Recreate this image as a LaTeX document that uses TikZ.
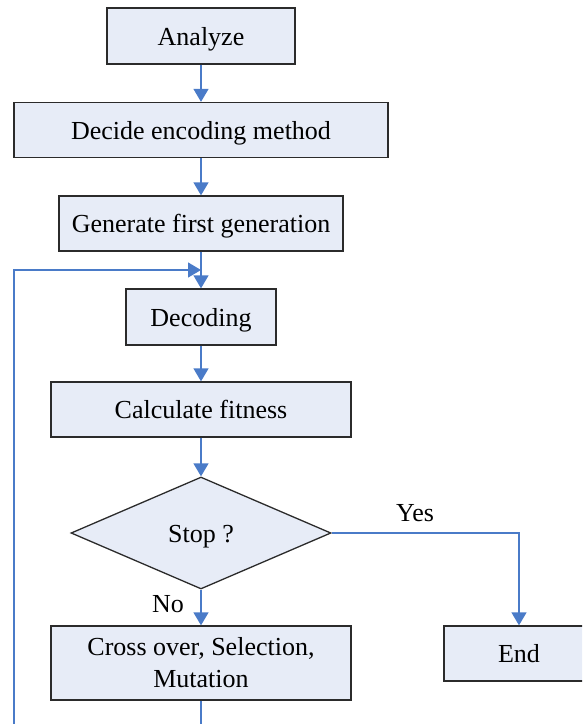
\documentclass[tikz,border=0pt]{standalone}
\usepackage{fontspec}
\setmainfont{Liberation Serif}
\usetikzlibrary{shapes.geometric,arrows.meta}
\definecolor{boxfill}{HTML}{E7ECF7}
\definecolor{boxline}{HTML}{2B2B2B}
\definecolor{arrblue}{HTML}{4A7BC8}
\tikzset{
  box/.style={draw=boxline, fill=boxfill, line width=1.3pt, inner sep=0pt,
    font=\fontsize{26}{32}\selectfont, align=center},
  onebox/.style={box, text height=22pt, text depth=4pt},
  decision/.style={onebox, shape=diamond, minimum width=260pt, minimum height=112pt, aspect=2.3},
  conn/.style={draw=arrblue, line width=1.3pt},
  arr/.style={conn, -{Triangle[length=13pt,width=15pt]}},
  lbl/.style={font=\fontsize{26}{32}\selectfont, inner sep=0pt}
}
\begin{document}
\begin{tikzpicture}[x=1pt,y=-1pt]
\useasboundingbox (0,0) rectangle (582,724);
\clip (0,0) rectangle (582,724);
\node[onebox, minimum width=188pt, minimum height=56pt] (a) at (201,36) {Analyze};
\node[onebox, minimum width=374pt, minimum height=55pt] (b) at (201,130) {Decide encoding method};
\node[onebox, minimum width=284pt, minimum height=55pt] (c) at (201,223.5) {Generate first generation};
\node[onebox, minimum width=150pt, minimum height=56pt] (d) at (201,317) {Decoding};
\node[onebox, minimum width=300pt, minimum height=55pt] (e) at (201,409.5) {Calculate fitness};
\node[decision] (s) at (201,533) {Stop ?};
\node[box, minimum width=300pt, minimum height=74pt] (f) at (201,663) {Cross over, Selection,\\Mutation};
\node[onebox, minimum width=150pt, minimum height=55pt] (g) at (519,653.5) {End};
\node[lbl] (yes) at (415,513) {Yes};
\node[lbl] (no) at (168,604) {No};
\coordinate (j) at (201,270);
\coordinate (lb) at (201,760);
\coordinate (ll) at (14,760);
\draw[arr] (a.south) -- (a.south |- b.north);
\draw[arr] (b.south) -- (b.south |- c.north);
\draw[arr] (c.south) -- (c.south |- d.north);
\draw[arr] (d.south) -- (d.south |- e.north);
\draw[arr] (e.south) -- (e.south |- s.north);
\draw[arr] (s.south) -- (s.south |- f.north);
\draw[arr] (s.east) -| (g.north);
\draw[arr] (f.south) -- (lb) -- (ll) |- (j);
\end{tikzpicture}
\end{document}
